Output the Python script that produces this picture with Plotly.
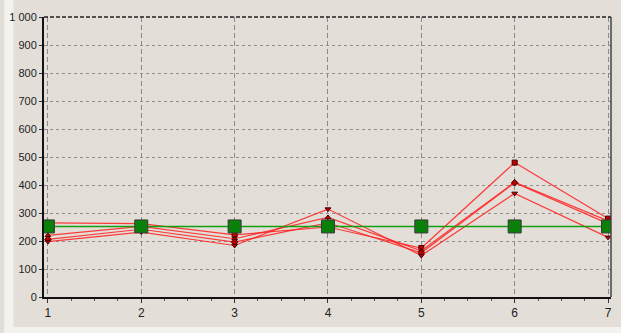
import plotly.graph_objects as go

x_vals = [1, 2, 3, 4, 5, 6, 7]
series_a = [265, 262, 222, 250, 175, 480, 280]
series_b = [220, 252, 208, 284, 165, 410, 272]
series_c = [206, 242, 196, 265, 158, 408, 262]
series_d = [198, 232, 184, 314, 148, 370, 213]
reference = [252, 252, 252, 252, 252, 252, 252]
y_ticks = [0, 100, 200, 300, 400, 500, 600, 700, 800, 900, 1000]
y_tick_labels = ["0", "100", "200", "300", "400", "500", "600", "700", "800", "900", "1 000"]
x_tick_labels = ["1", "2", "3", "4", "5", "6", "7"]

BG = "#E3DFD8"
fig = go.Figure()

red_series = [series_a, series_b, series_c, series_d]
symbols = ["square", "triangle-up", "diamond", "triangle-down"]
for vals, sym in zip(red_series, symbols):
    fig.add_trace(go.Scatter(
        x=x_vals, y=vals, mode="lines+markers",
        line=dict(color="rgba(255,30,30,0.85)", width=1.2),
        marker=dict(symbol=sym, size=5, color="#C00000",
                    line=dict(color="#400000", width=1)),
        showlegend=False, hoverinfo="skip"))

fig.add_trace(go.Scatter(
    x=x_vals, y=reference, mode="lines+markers",
    line=dict(color="#10A010", width=1.5),
    marker=dict(symbol="square", size=13, color="#0A7F0A",
                line=dict(color="#3A3A3A", width=1)),
    showlegend=False, hoverinfo="skip"))

fig.update_layout(
    width=621, height=333,
    margin=dict(l=36, r=9, t=17, b=36),
    paper_bgcolor=BG, plot_bgcolor=BG,
    font=dict(family="Liberation Sans, DejaVu Sans, sans-serif", size=11, color="#222"),
    xaxis=dict(range=[0.958, 7.032], tickvals=x_vals, ticktext=x_tick_labels,
               showgrid=True, gridcolor="#8A8A8A", griddash="5px,3px", gridwidth=1,
               zeroline=False, showline=True, linecolor="#111", linewidth=2,
               ticks="outside", ticklen=4, tickcolor="#333",
               minor=dict(dtick=0.25, ticks="outside", ticklen=2, tickcolor="#555", showgrid=False),
               tickfont=dict(size=12)),
    yaxis=dict(range=[0, 1000], tickvals=y_ticks, ticktext=y_tick_labels,
               showgrid=True, gridcolor="#8F8F8F", griddash="3px,3px", gridwidth=1,
               zeroline=False, showline=True, linecolor="#111", linewidth=2,
               ticks="outside", ticklen=3, tickcolor="#333",
               tickfont=dict(size=11)),
    shapes=[
        dict(type="line", xref="paper", yref="paper", x0=0, x1=1, y0=1, y1=1,
             line=dict(color="#222", width=1.5, dash="4px,2px")),
        dict(type="line", xref="paper", yref="paper", x0=1, x1=1, y0=0, y1=1,
             line=dict(color="#444", width=1.5)),
        dict(type="rect", xref="paper", yref="paper", x0=-0.07, x1=-0.0538, y0=-0.2, y1=1.1,
             fillcolor="#F3F2EF", line=dict(width=0), layer="below"),
        dict(type="rect", xref="paper", yref="paper", x0=-0.07, x1=1.1, y0=-0.2, y1=-0.107,
             fillcolor="#F3F2EF", line=dict(width=0), layer="below"),
    ],
)

fig.write_html("out.html")
